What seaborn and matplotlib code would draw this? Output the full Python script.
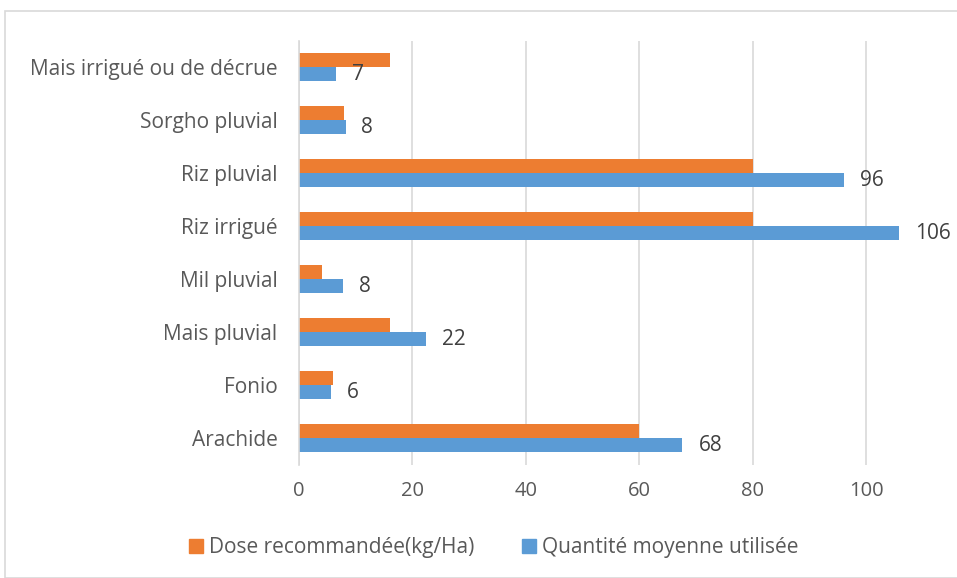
import pandas as pd
import matplotlib.pyplot as plt
import seaborn as sns
from matplotlib.patches import Rectangle

# Data (top to bottom)
categories = ["Mais irrigué ou de décrue", "Sorgho pluvial", "Riz pluvial", "Riz irrigué",
              "Mil pluvial", "Mais pluvial", "Fonio", "Arachide"]
dose_recommandee = [16, 8, 80, 80, 4, 16, 6, 60]
quantite_moyenne = [6.6, 8.2, 96.0, 105.8, 7.8, 22.4, 5.6, 67.6]
labels_quantite = ["7", "8", "96", "106", "8", "22", "6", "68"]

series_names = ["Dose recommandée(kg/Ha)", "Quantité moyenne utilisée"]
colors = ["#ED7D31", "#5B9BD5"]

df = pd.DataFrame({
    "culture": categories * 2,
    "valeur": dose_recommandee + quantite_moyenne,
    "serie": [series_names[0]] * len(categories) + [series_names[1]] * len(categories),
})

sns.set_style("white")
plt.rcParams["font.family"] = ["Open Sans", "DejaVu Sans"]

fig = plt.figure(figsize=(9.57, 5.78), dpi=100)
W, H = 957, 578
ax = fig.add_axes([299 / W, 1 - 464.5 / H, (957 - 299) / W, (464.5 - 40.5) / H])

sns.barplot(data=df, y="culture", x="valeur", hue="serie", order=categories,
            hue_order=series_names, palette=colors, width=0.53, orient="h",
            saturation=1, linewidth=0, ax=ax, legend=False)

ax.set_xlim(0, 116)
ax.set_xticks([0, 20, 40, 60, 80, 100])
ax.xaxis.grid(True, color="#D9D9D9", linewidth=1.2)
ax.set_axisbelow(True)
for s in ["top", "right", "bottom"]:
    ax.spines[s].set_visible(False)
ax.spines["left"].set_color("#D9D9D9")
ax.spines["left"].set_linewidth(1.2)
ax.tick_params(axis="x", length=0, labelsize=14.5, colors="#595959", pad=12)
ax.tick_params(axis="y", length=0, labelsize=15, colors="#595959", pad=15.5)
ax.set_xlabel("")
ax.set_ylabel("")

# data labels on the blue bars
blue_bars = ax.containers[1]
ax.bar_label(blue_bars, labels=labels_quantite, padding=11.5, fontsize=15,
             color="#404040")

# legend below the plot
handles = [Rectangle((0, 0), 1, 1, color=c) for c in colors]
fig.legend(handles, series_names, loc="center", bbox_to_anchor=(0.516, 1 - 548 / H),
           ncol=2, frameon=False, fontsize=15, handlelength=0.67, handleheight=0.67,
           handletextpad=0.29, columnspacing=2.3, labelcolor="#595959")

# outer chart border
fig.patches.append(Rectangle((5 / W, 0), 1, 1 - 11 / H, transform=fig.transFigure,
                             fill=False, edgecolor="#D9D9D9", linewidth=1.2))

fig.savefig("out.png", dpi=100)
